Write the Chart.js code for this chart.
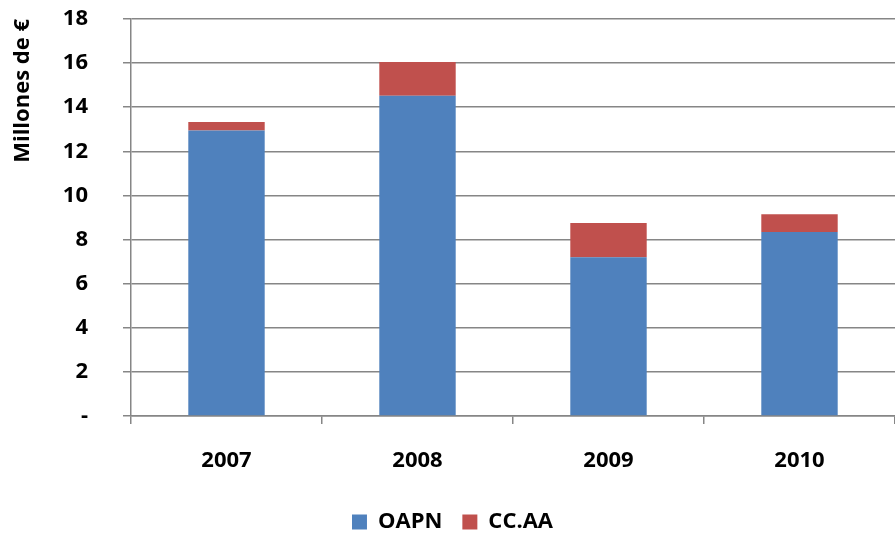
<!DOCTYPE html>
<html>
<head>
<meta charset="utf-8">
<script src="https://cdn.jsdelivr.net/npm/chart.js@4"></script>
<style>
  html, body { margin: 0; padding: 0; background: #fff; }
  #wrap { width: 895px; height: 533px; }
</style>
</head>
<body>
<div id="wrap"><canvas id="stackChart"></canvas></div>
<script>
// data
const years = ['2007', '2008', '2009', '2010'];
const oapn = [12.94, 14.52, 7.2, 8.34];
const ccaa = [0.39, 1.53, 1.55, 0.81];

const gridGray = '#868686';
const font = { family: '"Open Sans", sans-serif', weight: 'bold', size: 22 };

const ctx = document.getElementById('stackChart').getContext('2d');
new Chart(ctx, {
    type: 'bar',
    data: {
        labels: years,
        datasets: [{
            label: 'OAPN',
            data: oapn,
            backgroundColor: '#4F81BD',
            categoryPercentage: 1,
            barPercentage: 0.4
        }, {
            label: 'CC.AA',
            data: ccaa,
            backgroundColor: '#C0504D',
            categoryPercentage: 1,
            barPercentage: 0.4
        }]
    },
    options: {
        responsive: true,
        maintainAspectRatio: false,
        animation: false,
        layout: { padding: { top: 19, left: 10, right: 0, bottom: 0 } },
        plugins: {
            tooltip: { enabled: false },
            legend: {
                position: 'bottom',
                maxHeight: 42,
                labels: {
                    font: { family: '"Open Sans", sans-serif', weight: 'bold', size: 22, lineHeight: 1 },
                    color: '#000',
                    boxWidth: 15,
                    boxHeight: 15,
                    padding: 20
                }
            }
        },
        scales: {
            x: {
                stacked: true,
                grid: { drawOnChartArea: false, drawTicks: true, tickLength: 8, color: gridGray, lineWidth: 1.5 },
                border: { color: gridGray, width: 1.5 },
                ticks: { font: font, color: '#000', padding: 24 },
                afterFit: function (scale) { scale.height = 75; }
            },
            y: {
                stacked: true,
                min: 0,
                max: 18,
                grid: { color: gridGray, lineWidth: 1.5, tickLength: 8 },
                border: { color: gridGray, width: 1.5 },
                ticks: {
                    stepSize: 2,
                    font: font,
                    color: '#000',
                    padding: 35,
                    callback: function (v) { return v === 0 ? '-' : v; }
                },
                title: {
                    display: true,
                    align: 'end',
                    text: 'Millones de €',
                    font: { family: '"Open Sans", sans-serif', weight: 'bold', size: 22 },
                    color: '#000',
                    padding: 0
                },
                afterFit: function (scale) {
                    // tick padding is only meant to push labels left, not to pad the top
                    scale.width = 121;
                    scale.paddingTop = 12;
                    scale.paddingBottom = 12;
                }
            }
        }
    }
});
</script>
</body>
</html>
